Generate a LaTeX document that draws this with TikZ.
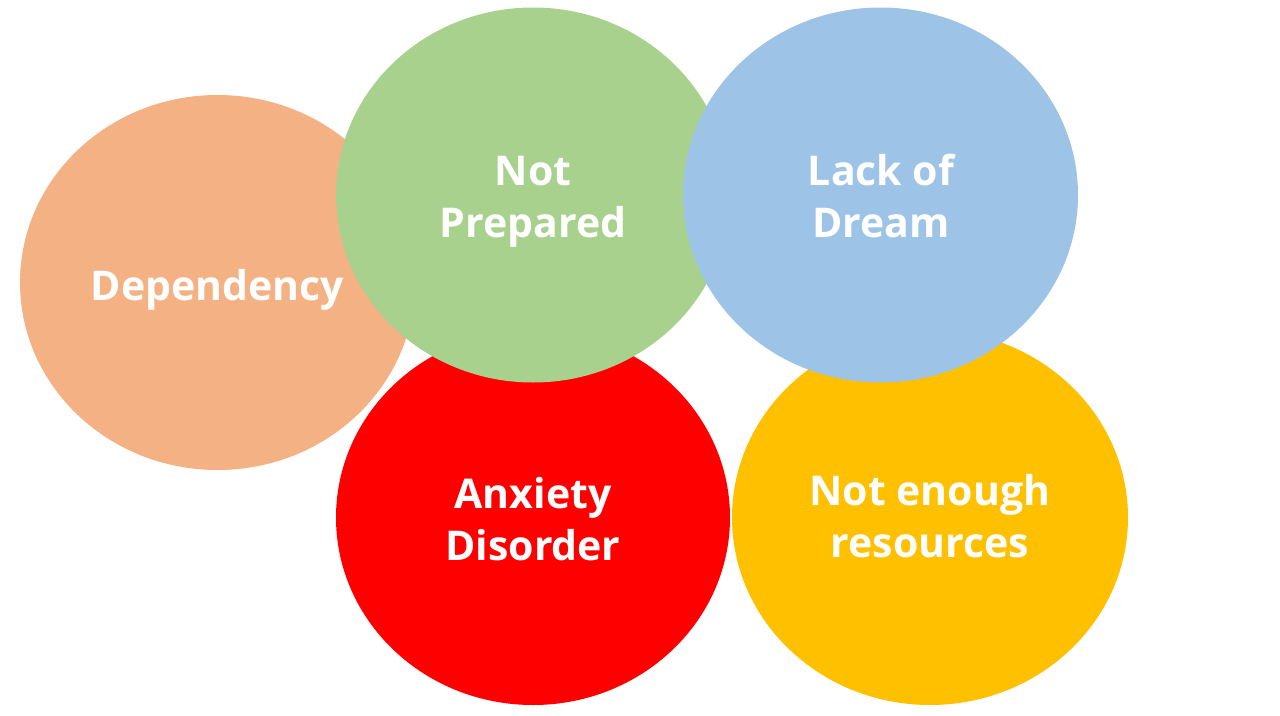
\documentclass[tikz,border=0pt]{standalone}
\usepackage{fontspec}
\setmainfont{Open Sans}
\definecolor{cdep}{HTML}{F4B183}
\definecolor{cgreen}{HTML}{A9D18E}
\definecolor{cblue}{HTML}{9DC3E6}
\definecolor{cred}{HTML}{FF0000}
\definecolor{cgold}{HTML}{FFC000}
\begin{document}
\begin{tikzpicture}[x=1pt,y=-1pt,
  blob/.style={draw=none},
  lbl/.style={text=white,font=\bfseries\fontsize{41}{52}\selectfont,align=center,inner sep=0pt}]
\useasboundingbox (0,0) rectangle (1280,715);
\fill[white] (0,0) rectangle (1280,715);
\fill[cdep,blob] (217.5,282.5) ellipse [x radius=197.5,y radius=187.5];
\fill[cred,blob] (533,517.5) ellipse [x radius=197,y radius=187.5];
\fill[cgold,blob] (930,517.5) ellipse [x radius=198,y radius=187.5];
\fill[cgreen,blob] (533,195) ellipse [x radius=197,y radius=187.5];
\fill[cblue,blob] (880.5,195) ellipse [x radius=197.5,y radius=187.5];
\node[lbl] (dep) at (217.5,290) {Dependency};
\node[lbl] (np) at (533,202) {Not\\Prepared};
\node[lbl] (ld) at (881,196) {Lack of\\Dream};
\node[lbl] (ad) at (533,519) {Anxiety\\Disorder};
\node[lbl] (ne) at (930,516) {Not enough\\resources};
\end{tikzpicture}
\end{document}
